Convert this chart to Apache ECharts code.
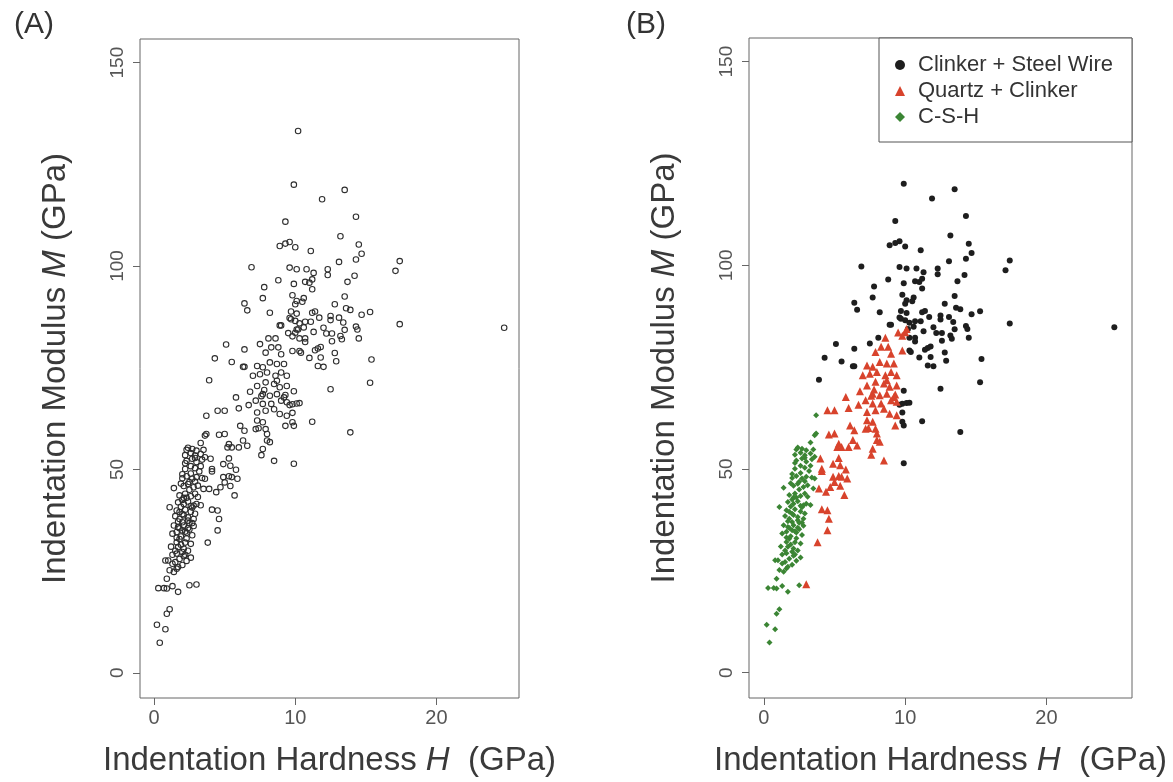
<!DOCTYPE html>
<html>
<head>
<meta charset="utf-8">
<script src="https://cdn.jsdelivr.net/npm/echarts@6/dist/echarts.min.js"></script>
<style>
  html, body { margin: 0; padding: 0; background: #fff; }
  #chart { width: 1173px; height: 782px; }
</style>
</head>
<body>
<div id="chart"></div>
<script>
// Nanoindentation results: [hardness H (GPa), modulus M (GPa)]
const clinkerSteel = [
  [10.2,133.2],[9.9,120.0],[13.5,118.7],[11.9,116.4],[14.3,112.1],[9.3,110.9],[13.2,107.3],
  [8.9,104.9],[9.3,105.5],[9.6,105.9],[10.0,104.6],[11.1,103.7],[14.5,105.3],[14.7,103.0],
  [14.3,101.6],[13.1,101.0],[17.4,101.2],[17.1,98.8],[6.9,99.7],[9.6,99.6],[10.1,99.2],
  [10.8,99.2],[11.3,98.3],[12.3,99.2],[12.3,97.8],[14.2,97.6],[13.7,96.1],[8.8,96.5],
  [9.9,95.6],[10.7,96.1],[11.0,95.9],[11.2,96.7],[11.2,94.3],[7.8,94.8],[7.7,92.1],
  [9.8,92.8],[10.6,92.1],[10.5,91.2],[10.1,91.4],[10.0,90.6],[13.5,92.5],[13.6,89.6],
  [13.9,89.2],[12.8,90.6],[8.2,88.5],[9.7,88.8],[10.1,88.3],[9.7,86.9],[10.0,86.5],
  [9.6,87.2],[11.2,88.5],[11.4,88.8],[11.7,87.3],[12.5,87.7],[12.5,86.7],[13.1,87.3],
  [13.4,86.1],[14.7,88.0],[15.3,88.7],[14.3,85.1],[14.4,84.4],[17.4,85.7],[24.8,84.8],
  [9.0,85.4],[10.3,85.9],[10.7,86.3],[11.1,86.3],[10.6,84.9],[10.2,84.4],[12.0,84.8],
  [11.3,83.8],[12.2,83.4],[12.6,83.4],[13.2,82.8],[13.5,84.3],[13.3,82.0],[14.5,82.2],
  [10.3,82.2],[10.7,82.2],[10.7,81.3],[12.6,81.5],[11.8,80.1],[11.6,79.7],[11.4,79.3],
  [10.3,79.1],[10.4,78.7],[11.0,77.4],[11.8,77.5],[12.8,78.6],[12.9,76.6],[11.6,75.4],
  [12.0,75.2],[15.4,77.0],[15.3,71.3],[12.5,69.7],[9.9,69.2],[9.8,66.0],[10.1,66.2],
  [10.3,66.3],[9.6,65.8],[9.8,63.9],[11.2,61.7],[9.8,61.6],[9.9,60.7],[13.9,59.1],
  [8.1,82.2],[7.5,80.8],[8.9,85.4],[9.9,51.4],[3.9,71.9],[4.3,77.3],[5.1,80.7],[5.5,76.4],
  [6.3,75.2],[6.4,75.2],[6.4,79.5],[6.4,90.8],[6.6,89.1]
];
const quartzClinker = [
  [3.0,21.7],[3.8,32.0],[4.5,35.0],[4.6,37.8],[4.1,40.1],[4.5,39.9],[5.7,43.6],[3.9,45.2],
  [4.4,44.4],[4.7,45.6],[5.4,45.9],[5.9,47.7],[5.0,46.8],[4.9,48.1],[5.3,48.3],[5.5,48.1],
  [4.1,49.5],[4.1,50.1],[4.9,51.3],[5.4,50.9],[5.8,49.9],[4.0,52.6],[5.3,52.7],[5.2,55.4],
  [5.5,55.4],[5.3,56.2],[6.0,55.4],[6.6,55.8],[6.3,57.1],[4.6,58.5],[5.0,58.7],[6.1,60.7],
  [6.4,59.5],[7.4,60.1],[8.0,58.7],[7.6,53.5],[8.5,52.1],[4.5,64.4],[5.0,64.4],[6.0,65.0],
  [6.7,65.8],[5.8,67.7],[6.8,69.1],[8.7,71.8],[9.3,68.3],[9.4,63.2],[8.6,82.2],[9.8,82.7],
  [10.0,83.6],[9.8,79.1],[7.9,78.7],[8.3,80.0],[8.8,80.0],[9.0,78.3],[7.3,75.4],[7.7,75.1],
  [8.2,76.3],[8.7,75.9],[9.2,75.9],[7.0,73.0],[7.5,73.4],[8.0,73.8],[8.6,73.0],[9.0,73.8],
  [9.4,73.0],[7.3,70.5],[7.9,71.4],[8.5,71.0],[8.9,70.2],[9.4,70.5],[7.7,68.5],[8.2,68.1],
  [8.7,68.5],[9.2,67.7],[7.2,66.9],[7.7,66.1],[8.3,66.1],[9.0,66.9],[9.4,66.5],[7.3,64.0],
  [7.9,64.4],[8.5,64.8],[8.9,63.6],[7.3,62.0],[7.7,61.6],[9.3,60.7],[7.9,59.9],[7.2,59.9],
  [8.0,57.1],[8.2,56.7],[7.7,55.0],[10.1,84.4],[9.5,83.5],[7.8,69.5],[7.6,68.0]
];
const csh = [
  [0.4,7.4],[0.2,11.8],[0.8,10.7],[0.9,14.5],[1.1,15.6],[0.3,20.8],[0.7,20.8],[0.9,20.7],
  [1.3,21.3],[1.7,19.9],[2.5,21.5],[0.9,23.1],[1.1,25.2],[1.4,24.8],[1.6,25.6],[0.8,27.6],
  [1.0,27.6],[1.3,26.8],[1.8,28.0],[2.1,28.7],[1.6,29.3],[2.0,29.7],[2.6,28.3],[1.7,30.9],
  [2.1,30.5],[1.6,32.1],[1.8,32.9],[2.2,32.0],[2.6,31.7],[1.3,34.2],[1.6,34.6],[2.0,35.0],
  [2.3,34.4],[2.7,33.8],[1.4,36.2],[1.7,35.8],[2.1,36.2],[2.4,35.6],[2.8,36.1],[1.8,37.8],
  [2.1,38.7],[2.4,37.4],[2.8,37.8],[1.6,39.9],[1.8,39.5],[2.2,40.1],[2.6,39.6],[2.9,39.1],
  [1.1,40.7],[1.7,41.9],[2.1,41.5],[2.4,42.1],[2.8,41.1],[3.0,41.5],[1.8,43.6],[2.2,44.0],
  [2.6,43.4],[2.9,44.0],[1.4,45.4],[2.1,45.9],[2.4,46.4],[2.8,45.6],[3.1,46.0],[3.5,45.2],
  [2.0,47.8],[2.3,48.3],[2.7,47.7],[3.0,48.1],[3.4,47.9],[3.6,47.7],[2.2,50.1],[2.6,50.8],
  [2.9,50.3],[3.3,50.8],[2.3,52.1],[2.7,52.6],[3.0,51.8],[3.4,52.4],[2.2,53.5],[2.6,54.0],
  [2.9,53.4],[3.3,53.8],[3.6,53.0],[2.3,54.8],[2.7,55.0],[3.0,54.6],[3.5,54.8],[3.3,56.5],
  [3.6,58.3],[3.7,58.7],[3.7,63.2],[1.5,38.5],[1.9,33.5],[2.4,30.0],[1.2,31.0],[2.0,26.5],
  [1.5,27.2],[2.3,43.0],[2.0,37.0],[2.5,35.2],[1.9,40.8],[2.2,29.0],
  [1.9,31.5],[2.3,33.0],[2.5,36.8],[1.7,37.2],[2.0,39.0],[2.6,41.0],[2.1,43.0],[2.5,45.0],
  [1.9,46.5],[2.6,49.0],[2.2,51.5],[2.9,52.8],[3.2,49.5],[1.6,33.2],[2.4,38.2],[2.2,34.7],
  [1.8,35.5],[2.7,40.6],[2.0,42.5],[1.5,30.0],[2.9,47.0],[3.1,43.2],[2.0,48.8],[2.4,55.3],
  [1.3,29.0],[2.3,27.5],[1.7,26.0],[2.7,36.8],[3.3,41.2],[2.5,46.9]
];
const xTicks = [0, 10, 20];
const yTicks = [0, 50, 100, 150];
const allPoints = clinkerSteel.concat(quartzClinker, csh);

const FONT = 'Liberation Sans, Arial, sans-serif';
const chart = echarts.init(document.getElementById('chart'), null, { renderer: 'canvas' });

function xAxisFor(gridIndex) {
  return {
    gridIndex, type: 'value', min: -1.0, max: 25.85,
    splitLine: { show: false },
    axisLine: { show: false, onZero: false },
    axisTick: { show: true, customValues: xTicks, length: 7, lineStyle: { color: '#666', width: 1 } },
    axisLabel: { customValues: xTicks, fontSize: 20, color: '#555', fontFamily: FONT, margin: 10 },
    name: 'Indentation Hardness {it|H}  (GPa)', nameLocation: 'middle', nameGap: 46,
    nameTextStyle: { fontSize: 33, color: '#3a3a3a', fontFamily: FONT,
      rich: { it: { fontStyle: 'italic', fontSize: 33, color: '#3a3a3a', fontFamily: FONT } } }
  };
}
function yAxisFor(gridIndex) {
  return {
    gridIndex, type: 'value', min: -6.2, max: 155.8,
    splitLine: { show: false },
    axisLine: { show: false, onZero: false },
    axisTick: { show: true, customValues: yTicks, length: 7, lineStyle: { color: '#666', width: 1 } },
    axisLabel: { customValues: yTicks, rotate: 90, fontSize: 19, color: '#555', fontFamily: FONT, margin: 13 },
    name: 'Indentation Modulus {it|M} (GPa)', nameLocation: 'middle', nameGap: 68,
    nameTextStyle: { fontSize: 33, color: '#3a3a3a', fontFamily: FONT,
      rich: { it: { fontStyle: 'italic', fontSize: 33, color: '#3a3a3a', fontFamily: FONT } } }
  };
}

chart.setOption({
  backgroundColor: '#fff',
  animation: false,
  title: [
    { text: '(A)', left: 9, top: 5, textStyle: { fontSize: 30, fontWeight: 'normal', color: '#333', fontFamily: FONT } },
    { text: '(B)', left: 621, top: 5, textStyle: { fontSize: 30, fontWeight: 'normal', color: '#333', fontFamily: FONT } }
  ],
  grid: [
    { left: 140, top: 39, width: 379, height: 661, show: true, borderColor: '#666', borderWidth: 1, backgroundColor: 'transparent' },
    { left: 749, top: 38, width: 383, height: 662, show: true, borderColor: '#666', borderWidth: 1, backgroundColor: 'transparent' }
  ],
  xAxis: [xAxisFor(0), Object.assign(xAxisFor(1), { min: -1.05, max: 26.05 })],
  yAxis: [yAxisFor(0), yAxisFor(1)],
  legend: {
    data: ['Clinker + Steel Wire', 'Quartz + Clinker', 'C-S-H'],
    orient: 'vertical', left: 879, top: 38,
    padding: [16, 19, 14, 16], itemGap: 4, itemWidth: 10, itemHeight: 10,
    borderColor: '#555', borderWidth: 1, backgroundColor: '#fff',
    selectedMode: false,
    textStyle: { fontSize: 22, color: '#333', fontFamily: FONT, padding: [0, 0, 0, 8] }
  },
  series: [
    {
      name: 'All indents', type: 'scatter', xAxisIndex: 0, yAxisIndex: 0,
      symbol: 'circle', symbolSize: 5.5, data: allPoints,
      itemStyle: { color: 'rgba(0,0,0,0)', borderColor: '#2e2e2e', borderWidth: 1.1, opacity: 1 }
    },
    {
      name: 'Clinker + Steel Wire', type: 'scatter', xAxisIndex: 1, yAxisIndex: 1,
      symbol: 'circle', symbolSize: 6, data: clinkerSteel, itemStyle: { color: '#1e1e1e', opacity: 1 }
    },
    {
      name: 'Quartz + Clinker', type: 'scatter', xAxisIndex: 1, yAxisIndex: 1,
      symbol: 'triangle', symbolSize: 8, data: quartzClinker, itemStyle: { color: '#d8432c', opacity: 1 }
    },
    {
      name: 'C-S-H', type: 'scatter', xAxisIndex: 1, yAxisIndex: 1,
      symbol: 'diamond', symbolSize: 6, data: csh, itemStyle: { color: '#3b8534', opacity: 1 }
    }
  ]
});
</script>
</body>
</html>
